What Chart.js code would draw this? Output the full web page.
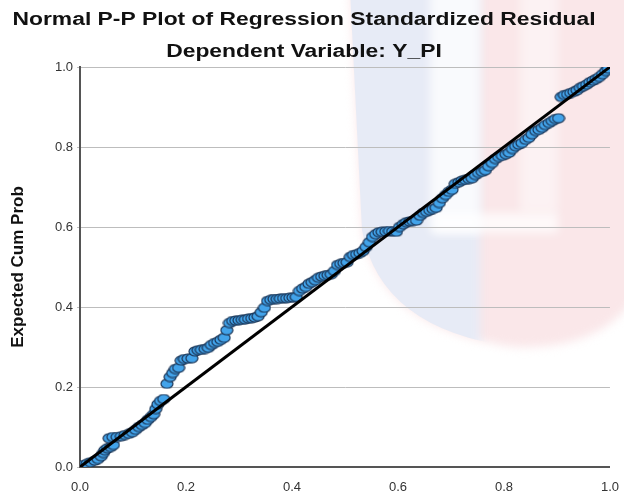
<!DOCTYPE html>
<html>
<head>
<meta charset="utf-8">
<script src="https://cdn.jsdelivr.net/npm/chart.js@4.4.1/dist/chart.umd.min.js"></script>
<style>
  html, body { margin: 0; padding: 0; background: #fff; }
</style>
</head>
<body>
<canvas id="pp" width="624" height="491"></canvas>
<script>
// Titulos y etiquetas
const titleLines = ['Normal P-P Plot of Regression Standardized Residual', 'Dependent Variable: Y_PI'];
const yTitle = 'Expected Cum Prob';
const tickVals = [0.0, 0.2, 0.4, 0.6, 0.8, 1.0];

const obsCum = [0.006,0.013,0.02,0.028,0.034,0.04,0.044,0.047,0.052,0.058,0.063,
  0.055,0.062,0.07,0.078,0.085,0.092,0.099,0.105,0.111,0.117,0.123,0.128,0.134,0.139,0.143,0.147,0.152,0.158,
  0.164,0.17,0.175,0.18,0.186,0.191,0.197,0.204,0.211,0.217,0.223,0.229,0.236,0.242,0.248,0.254,0.26,0.266,0.272,
  0.277,0.282,0.288,0.294,0.3,0.306,0.312,0.318,0.324,0.33,0.336,0.342,0.348,0.354,0.36,0.366,0.372,0.378,0.384,
  0.39,0.396,0.402,0.408,0.414,0.42,0.426,0.432,0.438,0.444,0.45,0.456,0.462,0.468,0.474,0.48,0.486,0.492,0.498,
  0.504,0.51,0.516,0.522,0.528,0.534,0.54,0.546,0.552,0.558,0.564,0.57,0.577,0.584,0.59,0.597,0.603,0.61,0.616,
  0.622,0.628,0.635,0.642,0.648,0.654,0.66,0.666,0.672,0.678,0.684,0.69,0.696,0.702,0.708,0.715,0.721,0.727,0.734,
  0.74,0.746,0.752,0.759,0.765,0.771,0.778,0.784,0.79,0.797,0.804,0.81,0.816,0.822,0.828,0.834,0.841,0.847,0.853,
  0.86,0.866,0.872,0.878,0.885,0.891,0.897,0.903,
  0.908,0.914,0.92,0.926,0.932,0.938,0.944,0.95,0.956,0.962,0.968,0.974,0.98,0.986,0.992,0.997];
const expCum = [0.005,0.008,0.012,0.016,0.02,0.027,0.035,0.042,0.047,0.05,0.055,
  0.072,0.075,0.075,0.077,0.08,0.083,0.087,0.093,0.1,0.105,0.11,0.118,0.125,0.132,0.145,0.157,0.165,0.17,
  0.208,0.225,0.235,0.245,0.248,0.266,0.27,0.271,0.272,0.289,0.292,0.293,0.295,0.298,0.305,0.31,0.313,0.318,0.323,
  0.342,0.36,0.365,0.366,0.367,0.368,0.369,0.371,0.372,0.374,0.377,0.387,0.398,0.415,0.418,0.42,0.42,0.421,0.422,
  0.422,0.423,0.424,0.425,0.44,0.446,0.45,0.458,0.462,0.467,0.473,0.476,0.478,0.48,0.482,0.49,0.505,0.508,0.51,
  0.512,0.525,0.53,0.532,0.535,0.54,0.55,0.562,0.575,0.582,0.587,0.588,0.589,0.59,0.589,0.588,0.6,0.607,0.612,
  0.614,0.615,0.616,0.628,0.635,0.638,0.642,0.645,0.648,0.66,0.672,0.68,0.688,0.693,0.708,0.712,0.716,0.718,0.72,
  0.722,0.73,0.735,0.738,0.742,0.752,0.76,0.77,0.775,0.778,0.782,0.786,0.795,0.802,0.806,0.81,0.818,0.823,0.832,
  0.84,0.843,0.848,0.855,0.86,0.865,0.87,0.872,
  0.925,0.93,0.932,0.935,0.938,0.942,0.948,0.952,0.956,0.962,0.966,0.97,0.975,0.982,0.99,0.996];
const refLine = [0, 1];

// punto eliptico (la imagen original esta estirada en horizontal)
const dot = document.createElement('canvas');
dot.width = 14; dot.height = 11;
const dctx = dot.getContext('2d');
dctx.beginPath();
dctx.ellipse(7, 5.5, 6, 4.5, 0, 0, Math.PI * 2);
dctx.fillStyle = '#42a3ea';
dctx.fill();
dctx.lineWidth = 1.2;
dctx.strokeStyle = '#1a3354';
dctx.stroke();

const puntos = obsCum.map((x, i) => ({ x: x, y: expCum[i] }));

// marca de agua de fondo, suave
const fondo = {
  id: 'fondo',
  beforeDraw(chart) {
    const c = chart.ctx;
    c.save();
    c.fillStyle = '#fff';
    c.fillRect(0, 0, chart.width, chart.height);
    c.filter = 'blur(5px)';
    c.beginPath();
    c.moveTo(350, -10);
    c.lineTo(362, 230);
    c.quadraticCurveTo(380, 330, 515, 347);
    c.quadraticCurveTo(605, 350, 640, 290);
    c.lineTo(640, -10);
    c.closePath();
    c.fillStyle = 'rgb(250,231,233)';
    c.fill();
    c.save();
    c.clip();
    c.fillStyle = 'rgb(231,235,246)';
    c.fillRect(340, -10, 140, 380);
    c.restore();
    c.fillStyle = 'rgba(255,255,255,0.75)';
    c.fillRect(430, -10, 50, 243);
    c.fillRect(434, 213, 124, 20);
    c.fillStyle = 'rgba(255,255,255,0.45)';
    c.fillRect(520, -10, 38, 223);
    c.restore();
  }
};

// titulos dibujados estirados
const titulos = {
  id: 'titulos',
  afterDraw(chart) {
    const c = chart.ctx;
    c.save();
    c.fillStyle = '#111';
    c.font = 'bold 18px "Liberation Sans", Arial, sans-serif';
    c.textAlign = 'center';
    c.textBaseline = 'middle';
    [20, 52].forEach((y, i) => {
      c.save();
      c.translate(304, y);
      c.scale(1.27, 1);
      c.fillText(titleLines[i], 0, 0);
      c.restore();
    });
    c.restore();
  }
};

new Chart(document.getElementById('pp'), {
  type: 'scatter',
  data: {
    datasets: [{
      type: 'line',
      data: refLine.map(v => ({ x: v, y: v })),
      borderColor: '#000',
      borderWidth: 3,
      pointRadius: 0,
      order: 0
    }, {
      data: puntos,
      pointStyle: dot,
      pointRadius: 5,
      order: 1
    }]
  },
  plugins: [fondo, titulos],
  options: {
    responsive: false,
    animation: false,
    devicePixelRatio: 1,
    layout: { padding: { top: 67, right: 13, left: 0, bottom: 0 } },
    plugins: {
      legend: { display: false },
      tooltip: { enabled: false },
      title: { display: false }
    },
    scales: {
      x: {
        type: 'linear', min: 0, max: 1,
        afterBuildTicks: s => { s.ticks = tickVals.map(v => ({ value: v })); },
        afterFit: s => { s.height = 24; },
        grid: { display: false },
        border: { color: '#555', width: 2 },
        ticks: { padding: 5, color: '#333', font: { size: 13, family: '"Liberation Sans", Arial' },
          callback: v => v.toFixed(1) }
      },
      y: {
        type: 'linear', min: 0, max: 1,
        afterBuildTicks: s => { s.ticks = tickVals.map(v => ({ value: v })); },
        afterFit: s => { s.width = 80; },
        grid: { color: '#bdbdbd', lineWidth: 1, tickLength: 3 },
        border: { color: '#555', width: 2 },
        ticks: { padding: 4, color: '#333', font: { size: 13, family: '"Liberation Sans", Arial' },
          callback: v => v.toFixed(1) },
        title: { display: true, text: yTitle, color: '#111', padding: { top: 8, bottom: 0 },
          font: { size: 17, weight: 'bold', family: '"Liberation Sans", Arial' } }
      }
    }
  }
});
</script>
</body>
</html>
